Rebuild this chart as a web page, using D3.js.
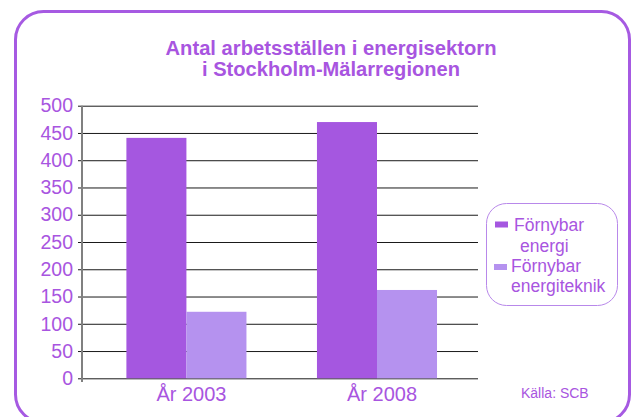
<!DOCTYPE html>
<html>
<head>
<meta charset="utf-8">
<script src="https://cdn.jsdelivr.net/npm/d3@7"></script>
<style>
  html, body { margin: 0; padding: 0; background: #fff; }
  svg { display: block; font-family: "Liberation Sans", Arial, sans-serif; }
</style>
</head>
<body>
<svg id="chart" width="632" height="417"></svg>
<script>
// Data
const categories = ["År 2003", "År 2008"];
const seriesNames = ["Förnybar energi", "Förnybar energiteknik"];
const fornybarEnergi = [441, 470];
const fornybarEnergiteknik = [122, 162];
const yTicks = [0, 50, 100, 150, 200, 250, 300, 350, 400, 450, 500];
const titleLines = ["Antal arbetsställen i energisektorn", "i Stockholm-Mälarregionen"];
const legendLines = [["Förnybar", "energi"], ["Förnybar", "energiteknik"]];
const sourceText = "Källa: SCB";

const purple = "#a855e0";
const colors = ["#a557e0", "#b592ef"];

const svg = d3.select("#chart");

// Outer rounded frame
svg.append("rect")
    .attr("x", 15.5).attr("y", 11.5)
    .attr("width", 614).attr("height", 411)
    .attr("rx", 28).attr("ry", 28)
    .attr("fill", "#fff")
    .attr("stroke", "#a65ae2")
    .attr("stroke-width", 3);

// Title
titleLines.forEach((line, i) => {
    svg.append("text")
        .attr("x", 331)
        .attr("y", 55 + i * 21)
        .attr("text-anchor", "middle")
        .attr("font-size", "21px")
        .attr("font-weight", "bold")
        .attr("fill", purple)
        .attr("textLength", i === 0 ? 331 : 258)
        .attr("lengthAdjust", "spacingAndGlyphs")
        .text(line);
});

// Scales
const y = d3.scaleLinear().domain([0, 500]).range([378.3, 105.7]);
const x = d3.scaleBand()
    .domain(categories)
    .range([82, 478])
    .paddingInner(0.37)
    .paddingOuter(0.224)
    .align(0.52);
const xSub = d3.scaleBand()
    .domain(seriesNames)
    .range([0, x.bandwidth()]);

// Y axis with gridlines
const yAxis = svg.append("g")
    .attr("transform", "translate(78,0)")
    .call(d3.axisLeft(y).tickValues(yTicks).tickSizeInner(-400).tickSizeOuter(0).tickPadding(5));
yAxis.select(".domain").remove();
yAxis.selectAll(".tick line")
    .attr("stroke", "#1a1a1a")
    .attr("stroke-width", 1);
yAxis.selectAll(".tick text")
    .attr("fill", purple)
    .attr("font-size", "19.5px")
    .attr("font-family", "Liberation Sans, Arial, sans-serif");

// Vertical axis line
svg.append("line")
    .attr("x1", 82).attr("x2", 82)
    .attr("y1", y(500)).attr("y2", 382)
    .attr("stroke", "#808080")
    .attr("stroke-width", 2);

// Bars
const rows = categories.map((c, i) => ({
    category: c,
    values: [fornybarEnergi[i], fornybarEnergiteknik[i]]
}));

const groups = svg.append("g")
    .selectAll("g")
    .data(rows)
    .enter()
    .append("g")
    .attr("transform", d => `translate(${x(d.category)},0)`);

groups.selectAll("rect")
    .data(d => d.values.map((v, j) => ({ name: seriesNames[j], value: v, idx: j })))
    .enter()
    .append("rect")
    .attr("x", d => xSub(d.name))
    .attr("width", xSub.bandwidth())
    .attr("y", d => y(d.value))
    .attr("height", d => y(0) - y(d.value))
    .attr("fill", d => colors[d.idx]);

// X axis labels
const xAxis = svg.append("g")
    .attr("transform", `translate(0,${y(0)})`)
    .call(d3.axisBottom(x).tickSize(0).tickPadding(8.5));
xAxis.select(".domain").remove();
xAxis.selectAll(".tick text")
    .attr("dx", 5)
    .attr("fill", purple)
    .attr("font-size", "20px")
    .attr("font-family", "Liberation Sans, Arial, sans-serif");

// Legend
const legend = svg.append("g");
legend.append("rect")
    .attr("x", 486.5).attr("y", 203.5)
    .attr("width", 131).attr("height", 102)
    .attr("rx", 20).attr("ry", 20)
    .attr("fill", "#fff")
    .attr("stroke", "#b888ea")
    .attr("stroke-width", 1);

const legendPos = [
    { sx: 495, sy: 221.5, tx: [514, 520], ty: [231, 252] },
    { sx: 494, sy: 264, tx: [511, 511], ty: [272, 292] }
];

legendLines.forEach((lines, i) => {
    const p = legendPos[i];
    legend.append("rect")
        .attr("x", p.sx).attr("y", p.sy)
        .attr("width", 13).attr("height", 6)
        .attr("fill", colors[i]);
    lines.forEach((line, k) => {
        legend.append("text")
            .attr("x", p.tx[k])
            .attr("y", p.ty[k])
            .attr("font-size", "17.5px")
            .attr("fill", purple)
            .text(line);
    });
});

// Source note
svg.append("text")
    .attr("x", 521)
    .attr("y", 398)
    .attr("font-size", "14px")
    .attr("fill", purple)
    .text(sourceText);
</script>
</body>
</html>
